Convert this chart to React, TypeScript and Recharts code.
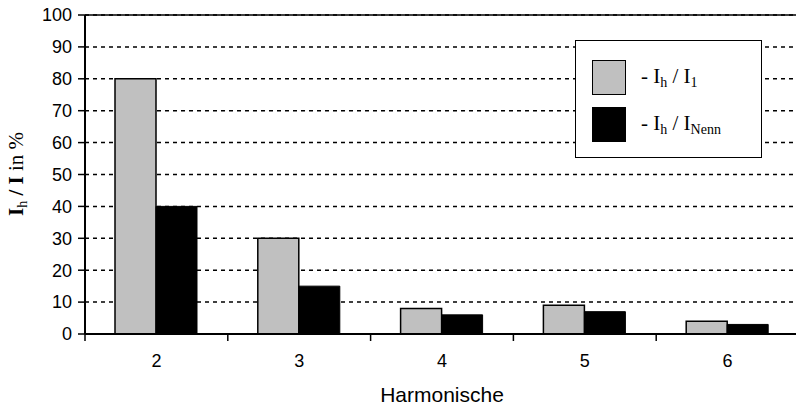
import { Bar, BarChart, CartesianGrid, ReferenceLine, XAxis, YAxis } from "recharts"

const harmonics = ["2", "3", "4", "5", "6"]
const ratioToI1 = [80, 30, 8, 9, 4]
const ratioToINenn = [40, 15, 6, 7, 3]
const yTicks = [0, 10, 20, 30, 40, 50, 60, 70, 80, 90, 100]

const data = harmonics.map((h, i) => ({
  h,
  i1: ratioToI1[i],
  nenn: ratioToINenn[i],
}))

const SANS = "'Liberation Sans', Arial, sans-serif"
const SERIF = "'Liberation Serif', 'Times New Roman', serif"

function XTick(props: any) {
  const { x, y, payload } = props
  const left = x - (payload.offset || 0)
  return (
    <g>
      <line x1={left} y1={y} x2={left} y2={y + 7} stroke="#000" strokeWidth={1.5} />
      <text x={x} y={y + 33} textAnchor="middle" fontFamily={SANS} fontSize={18} fill="#000">
        {payload.value}
      </text>
    </g>
  )
}

function YLabel() {
  return (
    <text
      transform="translate(23,174) rotate(-90)"
      textAnchor="middle"
      fontFamily={SERIF}
      fontSize={21}
      fill="#000"
    >
      <tspan fontWeight="bold">I</tspan>
      <tspan fontSize={14} dy={4}>h</tspan>
      <tspan fontWeight="bold" dy={-4}> / I</tspan>
      <tspan> in %</tspan>
    </text>
  )
}

function LegendBox() {
  const sub = { fontSize: 14, verticalAlign: "-4px" }
  const row = { display: "flex", alignItems: "center", height: 47 }
  const swatch = (fill: string) => ({
    width: 34,
    height: 35,
    background: fill,
    border: "1.5px solid #000",
    boxSizing: "border-box" as const,
    marginRight: 15,
  })
  return (
    <div
      style={{
        position: "absolute",
        left: 575,
        top: 40,
        width: 187,
        height: 118,
        border: "1.5px solid #000",
        background: "#fff",
        boxSizing: "border-box",
        padding: "13px 0 0 16px",
        fontFamily: SERIF,
        fontSize: 21,
        color: "#000",
      }}
    >
      <div style={row}>
        <div style={swatch("#c0c0c0")} />
        <span>
          - I<span style={sub}>h</span> / I<span style={sub}>1</span>
        </span>
      </div>
      <div style={row}>
        <div style={swatch("#000")} />
        <span>
          - I<span style={sub}>h</span> / I<span style={sub}>Nenn</span>
        </span>
      </div>
    </div>
  )
}

export default function App() {
  return (
    <div
      style={{
        position: "fixed",
        top: 0,
        left: 0,
        width: 796,
        height: 407,
        overflow: "hidden",
        background: "#fff",
      }}
    >
      <BarChart
        width={799}
        height={407}
        data={data}
        margin={{ top: 15, right: 0, bottom: 0, left: 0 }}
        barCategoryGap={30}
        barGap={0}
      >
        <CartesianGrid vertical={false} stroke="#000" strokeDasharray="4 4" strokeWidth={1.5} />
        <ReferenceLine y={100} stroke="#000" strokeWidth={1.5} />
        <XAxis
          dataKey="h"
          height={73}
          tickSize={0}
          tickMargin={0}
          tick={<XTick />}
          axisLine={{ stroke: "#000", strokeWidth: 2 }}
          label={{
            value: "Harmonische",
            position: "insideBottom",
            offset: 5,
            fontFamily: SANS,
            fontSize: 21,
            fill: "#000",
          }}
        />
        <YAxis
          width={85}
          domain={[0, 100]}
          ticks={yTicks}
          interval={0}
          tickSize={7}
          tickMargin={6}
          tick={{ fontFamily: SANS, fontSize: 18, fill: "#000" }}
          tickLine={{ stroke: "#000", strokeWidth: 1.5 }}
          axisLine={{ stroke: "#000", strokeWidth: 2 }}
          label={<YLabel />}
        />
        <Bar dataKey="i1" fill="#c0c0c0" stroke="#000" strokeWidth={1.5} isAnimationActive={false} />
        <Bar dataKey="nenn" fill="#000" stroke="#000" strokeWidth={1} isAnimationActive={false} />
      </BarChart>
      <LegendBox />
    </div>
  )
}
